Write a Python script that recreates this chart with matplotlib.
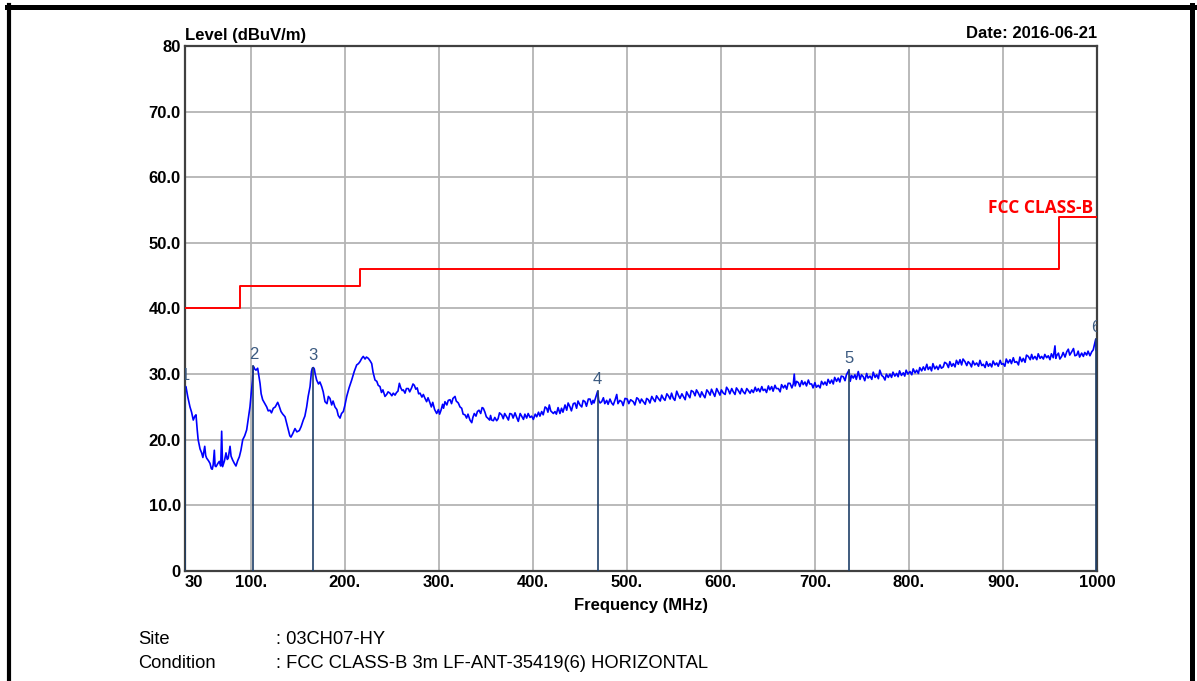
import matplotlib.pyplot as plt
from matplotlib.lines import Line2D

# measured trace (MHz, dBuV/m)
trace_freq = [
    30, 31, 33, 35.3, 37, 38.8, 40.5, 41.7, 43, 44,
    46, 47.7, 49, 51, 52, 53, 55, 56.6, 58, 59,
    60, 61.2, 62, 63, 65, 66.5, 68, 69, 70, 72,
    73.6, 75, 76, 77.9, 79, 80.7, 82.5, 84.2, 86, 87.8,
    89.5, 91.4, 93.5, 95.6, 97.5, 99.1, 100.5, 101.8, 102.7, 104,
    105.5, 107.3, 108.5, 109.8, 111, 112.6, 115, 116.9, 118.5, 120.4,
    122, 123.9, 126, 128.6, 130, 132.1, 134, 136.4, 138, 139.9,
    141.5, 142.7, 144.5, 147, 149, 151.6, 153.5, 155.8, 157.5, 159.4,
    161, 163, 164.5, 165.4, 166.5, 167.5, 168.5, 170, 172, 173.5,
    175.4, 177, 178.9, 181, 182.5, 184.2, 186, 187.5, 189.5, 191.5,
    193, 194.9, 196.5, 198.4, 200, 202, 204.5, 207.3, 210, 212.6,
    214.5, 216.1, 218, 219.6, 221.5, 223, 225, 227, 228.6, 230,
    232.1, 234, 235.5, 237.4, 239, 240.5, 242.7, 244.5, 246, 248,
    250, 251.5, 253.4, 255, 256.5, 258, 259.5, 261, 262.2, 264,
    265.5, 267.5, 269, 271, 272.5, 273.9, 275.5, 277, 278.5, 280,
    282, 283.5, 285.3, 287, 288.5, 290.6, 292, 293.5, 295.5, 297.7,
    299.5, 300.8, 302.3, 304, 305, 306.5, 308.5, 310, 311.9, 313.5,
    315, 317.2, 318.5, 320.7, 322.5, 324.3, 325.8, 327.8, 329.5, 331,
    333.1, 335, 336.2, 337.7, 339.5, 341, 342.7, 344.5, 346, 347.3,
    349, 350.5, 352, 354, 355, 356.2, 358, 359.5, 361.5, 363,
    364.5, 366.8, 368.5, 370, 372.1, 374, 375.5, 377.5, 379, 381,
    382.8, 384.5, 386.5, 388.1, 390, 391.5, 393.4, 395, 397, 398.7,
    400.5, 402.5, 404.1, 406, 407.5, 409.4, 411, 413, 414.7, 416,
    417.5, 419, 421.8, 423.5, 425, 426.8, 428.8, 430.5, 432, 434.2,
    436, 437.5, 439.5, 441, 443, 444.8, 446.5, 448, 450.1, 452,
    453.5, 455.4, 457, 459, 460.8, 462.5, 464, 465, 466.5, 468.9,
    470, 471.5, 473.2, 475, 476.5, 478.5, 480, 482, 483.8, 485.5,
    487.5, 489.2, 490.5, 492.5, 494.5, 496, 498, 500.4, 502, 504,
    506.8, 508.5, 510.5, 512.2, 514, 515.5, 517.5, 519.5, 521, 522.8,
    524.5, 526.5, 528.1, 530, 531.5, 533.4, 535.5, 537, 538.8, 540.5,
    542.5, 544.1, 546, 547.5, 549.4, 551, 553, 554.7, 556.5, 558.5,
    560, 562, 563.5, 565.3, 567, 568.5, 570.6, 572.5, 574, 576,
    578, 579.5, 581.3, 583, 585, 586.6, 588.5, 590, 591.9, 593.5,
    595.5, 597.2, 599, 600.5, 602.6, 604.5, 606, 607.9, 609.5, 611.5,
    613.2, 615, 616.5, 618.5, 620.5, 622, 623.8, 625.6, 627.5, 629.1,
    631, 632.7, 634.5, 636.5, 638, 639.8, 641.5, 643.5, 645, 646.9,
    648.5, 650.5, 652, 654, 655.5, 657.5, 659, 661.1, 663, 664.5,
    666.5, 668.2, 670, 671.5, 673.5, 675.5, 677, 678, 679, 680.5,
    682.4, 684, 686, 687.5, 689.4, 691, 693, 694.5, 696.5, 698,
    700, 701.5, 703.6, 705.5, 707, 709, 710.7, 712.5, 714, 716,
    717.8, 719.5, 721, 723, 724.8, 726.5, 728, 730.2, 732, 733.5,
    736.2, 737.5, 739, 740.8, 742.5, 744, 746.1, 748, 749.5, 751.4,
    753, 755, 756.5, 758.6, 760.5, 762, 764, 765.7, 767.5, 769,
    771, 772.7, 774.5, 776, 778, 779.8, 781.5, 783, 785, 786.9,
    788.5, 790, 792, 794, 795.5, 797, 799, 801.1, 803, 804.5,
    806.5, 808.2, 810, 811.5, 813.5, 815.3, 817, 819, 820.5, 822.4,
    824, 825.5, 827.5, 829.4, 831, 833, 834.5, 836.5, 838, 840.1,
    842, 843.5, 845.5, 847.2, 849, 850.5, 852.5, 854.3, 856, 857.5,
    859.6, 861.5, 863, 864.9, 866.5, 868, 870, 872, 874, 875.5,
    877.5, 879.1, 881, 882.5, 884.5, 886.2, 888, 889.5, 891.5, 893.3,
    895, 897, 898.5, 900.3, 902, 903.5, 905.5, 907.5, 909, 911,
    912.5, 914.6, 916.5, 918, 920, 921.6, 923.5, 925, 926.9, 929,
    930.5, 932, 934, 936, 937.5, 939.5, 941.1, 943, 944.5, 946.5,
    948.2, 950, 951.5, 953.5, 955.3, 956.2, 957.1, 959, 960.5, 962.4,
    964, 966, 967.8, 969.5, 971, 973.1, 975, 976.5, 978.4, 980,
    981.5, 983.7, 985.5, 987, 989, 990.5, 992.5, 994.4, 996, 998.6,
    999.3, 1000,
]
trace_level = [
    28.0, 28.1, 26.5, 25.0, 24.2, 23.0, 23.6, 23.8, 21.5, 20.0,
    18.6, 18.0, 17.3, 19.0, 17.6, 17.2, 16.8, 16.4, 15.6, 15.5,
    16.2, 18.4, 16.0, 15.9, 16.4, 16.7, 16.0, 21.3, 15.9, 16.8,
    18.0, 17.0, 17.2, 19.0, 17.5, 16.9, 16.4, 16.0, 16.8, 17.4,
    18.4, 20.0, 20.6, 21.5, 23.4, 25.0, 27.2, 29.0, 31.2, 30.8,
    30.6, 30.9, 29.8, 28.6, 27.0, 26.1, 25.5, 25.0, 24.4, 24.5,
    24.1, 24.8, 25.0, 25.7, 25.2, 24.3, 23.9, 23.5, 22.6, 21.5,
    20.6, 20.4, 20.9, 21.7, 21.2, 21.4, 22.0, 23.0, 23.6, 25.0,
    26.6, 28.1, 30.4, 30.9, 31.0, 30.8, 30.0, 29.1, 28.5, 28.8,
    28.1, 27.3, 25.8, 25.5, 26.6, 26.3, 25.3, 25.9, 25.0, 24.6,
    23.7, 23.3, 24.0, 24.3, 25.2, 26.6, 27.9, 29.1, 30.4, 31.4,
    31.6, 31.9, 32.4, 32.7, 32.3, 32.6, 32.4, 32.0, 31.6, 30.3,
    29.1, 28.9, 28.3, 28.1, 27.2, 27.6, 26.6, 26.9, 27.3, 27.1,
    26.7, 27.1, 26.8, 27.2, 27.4, 28.6, 27.9, 27.5, 27.6, 27.1,
    27.8, 27.8, 27.3, 27.9, 28.5, 28.3, 27.7, 27.9, 27.0, 27.1,
    26.5, 26.9, 26.3, 25.8, 26.4, 25.6, 25.0, 25.7, 24.6, 24.0,
    24.6, 23.9, 24.5, 25.4, 24.8, 25.8, 25.3, 26.0, 26.1, 25.5,
    26.3, 26.6, 25.9, 25.6, 25.0, 24.8, 23.9, 23.8, 23.3, 23.9,
    23.0, 22.6, 23.4, 24.0, 23.6, 24.3, 24.5, 24.0, 24.9, 24.8,
    24.2, 23.5, 23.3, 23.0, 23.7, 23.0, 22.9, 23.4, 22.9, 23.2,
    24.1, 23.8, 23.2, 24.0, 23.5, 23.0, 24.0, 23.9, 23.3, 24.1,
    23.4, 22.8, 24.0, 23.6, 23.1, 23.9, 23.3, 24.0, 23.4, 23.6,
    23.1, 23.9, 23.5, 24.2, 23.6, 24.3, 23.8, 25.0, 24.8, 24.2,
    25.3, 24.4, 24.0, 24.3, 23.9, 24.9, 24.0, 24.8, 24.2, 25.3,
    24.5, 25.6, 25.0, 24.4, 25.5, 25.6, 24.8, 25.9, 25.3, 25.0,
    26.0, 25.8, 25.1, 26.2, 26.2, 25.4, 26.0, 25.6, 26.3, 27.4,
    26.0, 25.6, 25.8, 26.4, 25.5, 26.0, 25.4, 26.2, 25.6, 25.3,
    26.1, 26.9, 25.5, 26.0, 25.8, 25.2, 26.3, 26.2, 25.5, 26.1,
    25.8, 25.3, 26.4, 26.2, 25.6, 26.2, 25.8, 25.4, 26.3, 26.1,
    25.6, 26.6, 26.2, 25.8, 26.7, 26.3, 25.9, 26.8, 26.3, 26.0,
    27.0, 26.7, 26.2, 27.1, 26.3, 26.0, 27.4, 26.8, 26.3, 27.0,
    26.6, 26.1, 27.3, 26.8, 26.4, 27.5, 27.3, 26.7, 27.6, 27.1,
    26.5, 27.3, 26.8, 26.4, 27.6, 27.3, 26.8, 27.7, 27.1, 26.6,
    27.8, 27.3, 26.8, 27.6, 27.1, 26.9, 28.0, 27.6, 27.0, 27.8,
    27.3, 26.9, 27.9, 27.5, 27.0, 27.8, 27.3, 27.0, 27.8, 27.5,
    27.1, 27.6, 27.2, 28.0, 27.4, 27.8, 27.3, 28.1, 27.5, 27.7,
    27.2, 28.2, 27.6, 28.1, 27.4, 28.3, 27.8, 27.8, 27.3, 28.4,
    27.9, 28.3, 27.7, 28.6, 28.6, 27.9, 28.5, 30.0, 28.2, 28.9,
    28.7, 28.1, 29.0, 28.4, 28.8, 28.2, 29.1, 28.5, 28.5, 27.9,
    28.7, 28.0, 28.3, 27.9, 28.9, 28.4, 28.8, 28.3, 29.2, 28.6,
    29.1, 28.5, 29.5, 28.9, 29.4, 28.8, 29.7, 29.6, 29.0, 29.9,
    30.6, 28.9, 29.8, 29.4, 29.9, 29.2, 30.4, 29.2, 29.9, 29.6,
    29.0, 30.1, 29.4, 29.7, 29.2, 30.3, 29.5, 29.9, 29.3, 30.6,
    29.8, 29.6, 29.1, 30.0, 29.5, 30.0, 29.5, 30.3, 29.7, 30.1,
    29.6, 30.5, 29.8, 30.2, 29.7, 30.6, 30.0, 30.4, 29.9, 30.8,
    30.2, 30.6, 30.1, 31.0, 30.5, 31.1, 30.6, 31.5, 30.7, 31.1,
    30.5, 31.6, 30.8, 31.2, 30.7, 31.4, 30.9, 31.1, 31.8, 31.6,
    31.0, 31.9, 31.2, 31.6, 31.1, 32.1, 31.5, 32.2, 31.4, 32.3,
    31.9, 31.3, 31.9, 31.6, 31.1, 32.0, 31.4, 31.7, 31.2, 32.1,
    31.3, 31.5, 31.0, 31.9, 31.2, 31.6, 31.1, 32.0, 31.4, 31.7,
    31.2, 32.1, 31.5, 31.6, 31.2, 32.3, 31.7, 32.2, 31.6, 32.5,
    31.8, 31.9, 31.4, 32.6, 31.9, 32.4, 31.8, 32.9, 32.7, 32.2,
    33.0, 32.3, 32.7, 32.2, 33.1, 32.4, 32.7, 32.3, 33.0, 32.5,
    32.8, 32.2, 33.1, 32.5, 34.3, 32.4, 32.8, 33.2, 32.3, 32.7,
    33.3, 32.6, 33.4, 33.8, 32.9, 33.4, 33.9, 32.8, 32.9, 33.5,
    32.6, 33.2, 32.7, 33.3, 32.9, 33.5, 32.8, 33.4, 33.7, 35.3,
    33.6, 34.0,
]

# FCC class B limit (step line)
limit_freq = [30, 88, 88, 216, 216, 960, 960, 1000]
limit_level = [40, 40, 43.5, 43.5, 46, 46, 54, 54]

# peak markers
marker_id = ["1", "2", "3", "4", "5", "6"]
marker_freq = [30.0, 102.7, 166.5, 468.9, 736.2, 998.6]
marker_level = [28.0, 31.2, 31.0, 27.4, 30.6, 35.3]

xticks = [30, 100, 200, 300, 400, 500, 600, 700, 800, 900, 1000]
xtick_labels = ["30", "100.", "200.", "300.", "400.", "500.", "600.",
                "700.", "800.", "900.", "1000"]
yticks = [0, 10, 20, 30, 40, 50, 60, 70, 80]
ytick_labels = ["0", "10.0", "20.0", "30.0", "40.0", "50.0", "60.0", "70.0", "80"]

plt.rcParams["font.family"] = ["Liberation Sans", "DejaVu Sans"]

fig = plt.figure(figsize=(11.97, 6.81), dpi=100)
ax = fig.add_axes([0.15455, 0.16153, 0.7619, 0.77093])

ax.plot(trace_freq, trace_level, color="#0000ff", lw=1.2, zorder=3)
ax.plot(limit_freq, limit_level, color="#ff0000", lw=1.4, zorder=3)

for mid, f, lv in zip(marker_id, marker_freq, marker_level):
    ax.plot([f, f], [0, lv], color="#1f3f68", lw=1.2, zorder=4)
    ax.annotate(mid, (f, lv), xytext=(0, 8.5), textcoords="offset points",
                ha="center", va="center", fontsize=12, color="#3b5a80",
                annotation_clip=False, clip_on=True, zorder=5)

ax.text(995.5, 55.3, "FCC CLASS-B", color="#ff0000", fontsize=12.5,
        fontweight="bold", family="Open Sans", ha="right", va="center")

ax.set_xlim(30, 1000)
ax.set_ylim(0, 80)
ax.set_xticks(xticks)
ax.set_xticklabels(xtick_labels, fontsize=12, fontweight="bold")
ax.get_xticklabels()[0].set_horizontalalignment("left")
ax.set_yticks(yticks)
ax.set_yticklabels(ytick_labels, fontsize=12, fontweight="bold")
ax.tick_params(length=0, pad=3)
ax.grid(True, color="#b4b4b4", lw=1.3)
ax.set_axisbelow(True)
for s in ax.spines.values():
    s.set_color("#404040")
    s.set_linewidth(1.6)

ax.set_xlabel("Frequency (MHz)", fontsize=12, fontweight="bold", labelpad=6)
ax.text(0.0, 1.006, "Level (dBuV/m)", transform=ax.transAxes,
        fontsize=12, fontweight="bold", ha="left", va="bottom")
ax.text(1.0, 1.01, "Date: 2016-06-21", transform=ax.transAxes,
        fontsize=12, fontweight="bold", ha="right", va="bottom")

# info lines under the chart
fig.text(138 / 1197, 1 - 640 / 681, "Site", fontsize=13.2, va="center")
fig.text(276 / 1197, 1 - 640 / 681, ": 03CH07-HY", fontsize=13.2, va="center")
fig.text(138 / 1197, 1 - 663 / 681, "Condition", fontsize=13.2, va="center")
fig.text(276 / 1197, 1 - 663 / 681,
         ": FCC CLASS-B 3m LF-ANT-35419(6) HORIZONTAL", fontsize=13.2, va="center")

# black frame round the picture (open at the bottom)
W, H = 1197, 681
fig.add_artist(Line2D([7 / W, 1194 / W], [1 - 6.5 / H, 1 - 6.5 / H],
                      color="black", lw=3.6, transform=fig.transFigure))
fig.add_artist(Line2D([9 / W, 9 / W], [0, 1 - 5 / H],
                      color="black", lw=3.0, transform=fig.transFigure))
fig.add_artist(Line2D([1191.5 / W, 1191.5 / W], [0, 1 - 5 / H],
                      color="black", lw=3.6, transform=fig.transFigure))

fig.savefig("out.png", dpi=100)
